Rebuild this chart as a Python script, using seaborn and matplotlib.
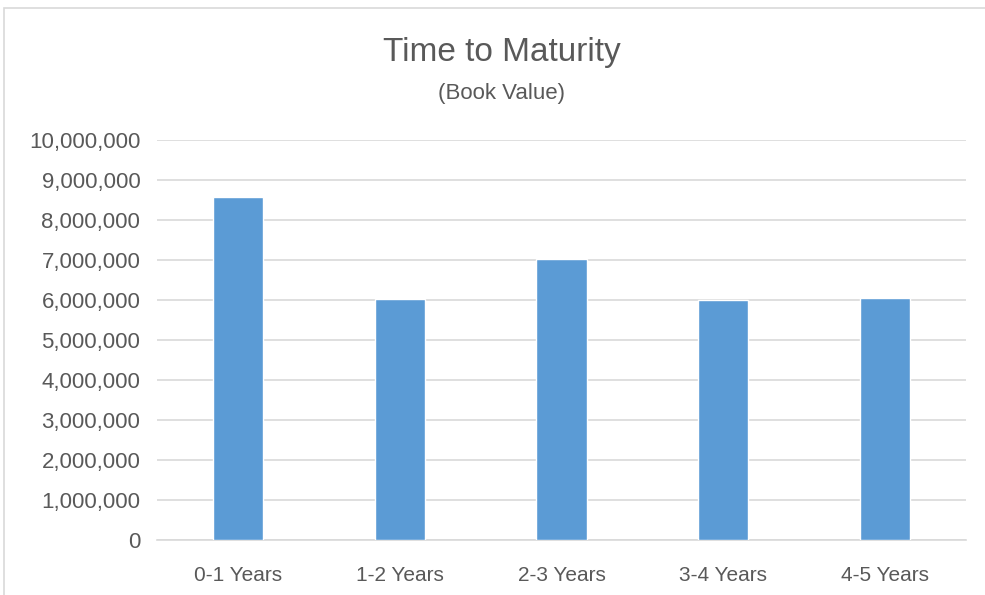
import matplotlib
matplotlib.use('Agg')
import pandas as pd
import seaborn as sns
from matplotlib import pyplot as plt
from matplotlib.patches import Rectangle
from matplotlib.ticker import FuncFormatter, MultipleLocator

categories = ['0-1 Years', '1-2 Years', '2-3 Years', '3-4 Years', '4-5 Years']
book_value = [8580000, 6025000, 7020000, 6000000, 6055000]

sns.set_style('white')
plt.rcParams['font.family'] = ['Liberation Sans', 'DejaVu Sans']
text_color = '#595959'

df = pd.DataFrame({'bucket': categories, 'value': book_value})

fig = plt.figure(figsize=(9.85, 5.95), dpi=100)
ax = fig.add_axes([157 / 985, 1 - 540 / 595, (966 - 157) / 985, 400 / 595])

sns.barplot(data=df, x='bucket', y='value', color='#5B9BD5', width=0.31,
            saturation=1, ax=ax, zorder=3)

ax.set_ylim(0, 10000000)
ax.yaxis.set_major_locator(MultipleLocator(1000000))
ax.yaxis.set_major_formatter(FuncFormatter(lambda v, p: f'{v:,.0f}'))
ax.grid(axis='y', color='#D9D9D9', linewidth=1.2, zorder=0)
ax.set_axisbelow(True)
for s in ['top', 'right', 'left']:
    ax.spines[s].set_visible(False)
ax.spines['bottom'].set_color('#D9D9D9')
ax.spines['bottom'].set_linewidth(1.2)
ax.set_xlabel('')
ax.set_ylabel('')
ax.tick_params(axis='both', length=0, labelcolor=text_color)
ax.tick_params(axis='y', pad=12, labelsize=16)
ax.tick_params(axis='x', pad=19, labelsize=15)

fig.text(502 / 985, 1 - 53 / 595, 'Time to Maturity', ha='center', va='center',
         fontsize=24, color=text_color)
fig.text(502 / 985, 1 - 93 / 595, '(Book Value)', ha='center', va='center',
         fontsize=16, color=text_color)

# chart frame
fig.patches.append(Rectangle((4 / 985, -0.05), 1.05, 1 - 8 / 595 + 0.05,
                             transform=fig.transFigure, fill=False,
                             edgecolor='#D9D9D9', linewidth=1.2))

fig.savefig('out.png', dpi=100)
